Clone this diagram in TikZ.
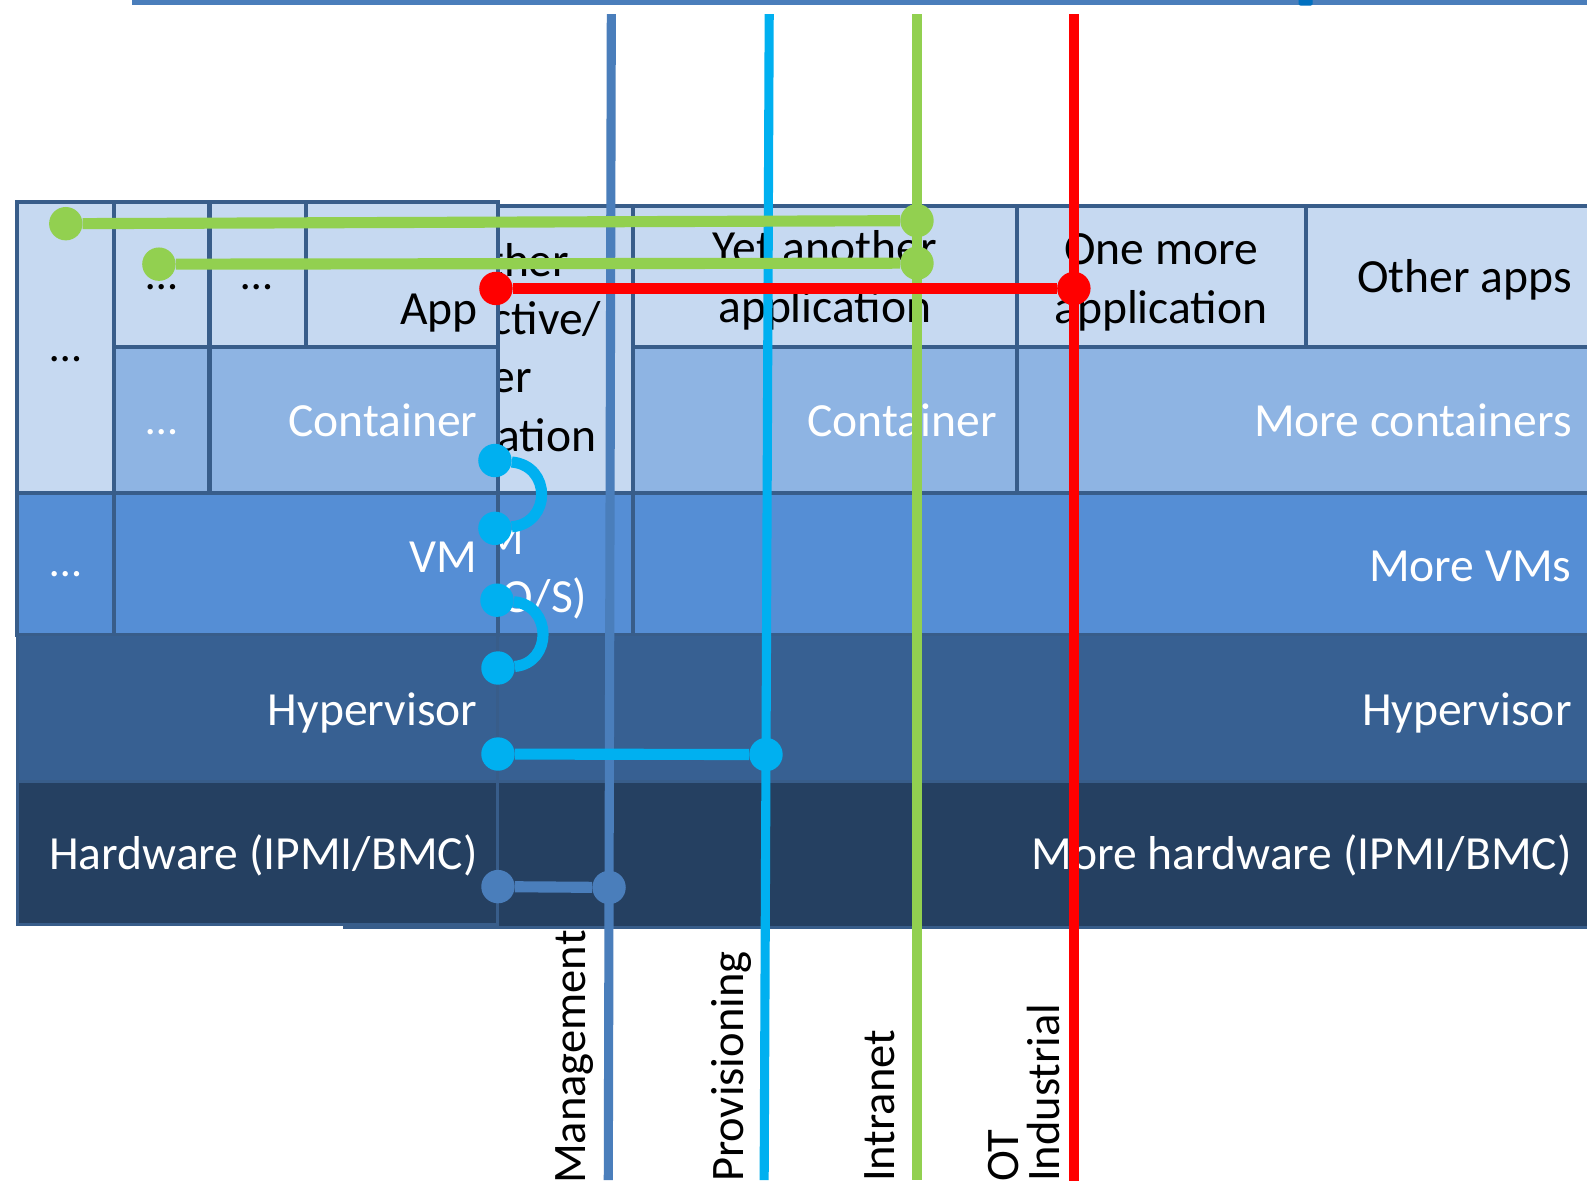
\documentclass[tikz,border=0pt]{standalone}
\usepackage{fontspec}
\setmainfont{Carlito}
\usetikzlibrary{calc}

\definecolor{appfill}{HTML}{C6D9F1}
\definecolor{contfill}{HTML}{8EB4E3}
\definecolor{vmfill}{HTML}{558ED5}
\definecolor{hypfill}{HTML}{376092}
\definecolor{hwfill}{HTML}{254061}
\definecolor{cellline}{HTML}{385D8A}
\definecolor{mgmtc}{HTML}{4A7EBB}
\definecolor{provc}{HTML}{00B0F0}
\definecolor{intrac}{HTML}{92D050}
\definecolor{otc}{HTML}{FF0000}
\definecolor{tabc}{HTML}{0070C0}

\newcommand\cellfont{\fontsize{47}{57.5}\selectfont}
\newcommand\ellfont{\fontsize{44}{50}\selectfont}
\newcommand\netfont{\fontsize{46}{40}\selectfont}

\begin{document}
\begin{tikzpicture}[x=1pt,y=-1pt,
  cell/.style={draw=cellline,line width=4pt},
  darkcell/.style={draw=cellline,line width=3pt},
  btxt/.style={inner sep=0pt,font=\cellfont},
  etxt/.style={inner sep=0pt,font=\ellfont},
  multi/.style={inner sep=0pt,font=\cellfont,align=center},
  lbl/.style={inner sep=0pt,font=\netfont,rotate=90},
  netline/.style={line width=9pt},
  wire/.style={line width=11pt},
  joint/.style={circle,inner sep=0pt,minimum size=33pt,fill=#1}]

\useasboundingbox (0,0) rectangle (1568,1174);
\fill[white] (0,0) rectangle (1568,1174);
\clip (0,0) rectangle (1568,1174);

% bus along the top edge
\coordinate (topL) at (130,2);
\coordinate (topR) at (1568,2);
\draw[mgmtc,line width=5pt] (topL) -- (topR);
\node[fill=tabc,rounded corners=2pt,minimum width=14pt,minimum height=9pt,inner sep=0pt] (tab) at (1290,1) {};

% second server (behind)
\path[cell,fill=appfill] (340,204) rectangle (625,487);
\path[cell,fill=appfill] (625,204) rectangle (1005,343);
\path[cell,fill=appfill] (1005,204) rectangle (1290,343);
\path[cell,fill=appfill] (1290,204) rectangle (1580,343);
\path[cell,fill=contfill] (625,343) rectangle (1005,487);
\path[cell,fill=contfill] (1005,343) rectangle (1580,487);
\path[cell,fill=vmfill] (340,487) rectangle (625,627);
\path[cell,fill=vmfill] (625,487) rectangle (1580,627);
\path[darkcell,fill=hypfill] (340,627) rectangle (1580,772);
\path[darkcell,fill=hwfill] (340,772) rectangle (1580,916);

\begin{scope}
  % the first server hides the left part of these texts
  \clip (494,200) rectangle (1580,920);
  \node[multi] (rinter) at (484,347) {Another\\interactive/\\user\\application};
  \node[multi,text=white] (rvm) at (484,565) {VM\\(own O/S)};
\end{scope}
\node[multi] (ryet) at (815,277) {Yet another\\application};
\node[multi] (rone) at (1147,279) {One more\\application};
\node[btxt,anchor=base east] (rother) at (1553,289) {Other apps};
\node[btxt,text=white,anchor=base east] (rcont) at (985,431) {Container};
\node[btxt,text=white,anchor=base east] (rmcont) at (1553,431) {More containers};
\node[btxt,text=white,anchor=base east] (rmvm) at (1553,575) {More VMs};
\node[btxt,text=white,anchor=base east] (rhyp) at (1553,717) {Hypervisor};
\node[btxt,text=white,anchor=base east] (rhw) at (1553,859) {More hardware (IPMI/BMC)};

% first server (front)
\path[cell,fill=appfill] (17,200) rectangle (113,487);
\path[cell,fill=appfill] (113,200) rectangle (207,343);
\path[cell,fill=appfill] (207,200) rectangle (302,343);
\path[cell,fill=appfill] (302,200) rectangle (492,343);
\path[cell,fill=contfill] (113,343) rectangle (207,487);
\path[cell,fill=contfill] (207,343) rectangle (492,487);
\path[cell,fill=vmfill] (17,487) rectangle (113,627);
\path[cell,fill=vmfill] (113,487) rectangle (492,627);
\path[darkcell,fill=hypfill] (17,627) rectangle (492,772);
\path[darkcell,fill=hwfill] (17,772) rectangle (492,913);

\node[etxt,anchor=base] (lell1) at (65,357) {…};
\node[etxt,anchor=base] (lell2) at (160,286) {…};
\node[etxt,anchor=base] (lell3) at (254,286) {…};
\node[btxt,anchor=base east] (lapp) at (472,321) {App};
\node[etxt,text=white,anchor=base] (lell4) at (160,429) {…};
\node[btxt,text=white,anchor=base east] (lcont) at (472,431) {Container};
\node[etxt,text=white,anchor=base] (lell5) at (65,570) {…};
\node[btxt,text=white,anchor=base east] (lvm) at (472,566) {VM};
\node[btxt,text=white,anchor=base east] (lhyp) at (472,717) {Hypervisor};
\node[btxt,text=white,anchor=base east] (lhw) at (472,859) {Hardware (IPMI/BMC)};

% network lines
\coordinate (mgT) at (604,14);  \coordinate (mgB) at (601,1166);
\coordinate (prT) at (760,14);  \coordinate (prB) at (755,1166);
\coordinate (inT) at (906,14);  \coordinate (inB) at (906,1166);
\coordinate (otT) at (1061,14); \coordinate (otB) at (1061,1167);
\draw[netline,mgmtc] (mgT) -- (mgB);
\draw[netline,provc] (prT) -- (prB);
\draw[netline,intrac] (inT) -- (inB);
\draw[netline,otc,line width=10pt] (otT) -- (otB);

\node[lbl,anchor=base west] (nmg) at (578,1170) {Management};
\node[lbl,anchor=base west] (npr) at (735,1168) {Provisioning};
\node[lbl,anchor=base west] (nin) at (884,1168) {Intranet};
\node[lbl,anchor=south west,align=left] (not) at (1047,1168) {OT\\Industrial};

% intranet attachments
\node[joint=intrac] (g1a) at (65,221) {};
\node[joint=intrac] (g1b) at (906,218) {};
\draw[wire,intrac] (g1a) -- (g1b);
\node[joint=intrac] (g2a) at (157,261) {};
\node[joint=intrac] (g2b) at (906,260) {};
\draw[wire,intrac] (g2a) -- (g2b);

% industrial attachment
\node[joint=otc] (r1a) at (490,285) {};
\node[joint=otc] (r1b) at (1061,285) {};
\draw[wire,otc] (r1a) -- (r1b);

% provisioning chain
\node[joint=provc] (p1a) at (489,455) {};
\node[joint=provc] (p1b) at (489,522) {};
\draw[wire,provc] (p1a) .. controls (545,460) and (545,517) .. (p1b);
\node[joint=provc] (p2a) at (491,593) {};
\node[joint=provc] (p2b) at (492,660) {};
\draw[wire,provc] (p2a) .. controls (546,598) and (546,655) .. (p2b);
\node[joint=provc] (p3a) at (492,745) {};
\node[joint=provc] (p3b) at ($(prT)!0.635!(prB)$) {};
\draw[wire,provc] (p3a) -- (p3b);

% management attachment
\node[joint=mgmtc] (m1a) at (492,876) {};
\node[joint=mgmtc] (m1b) at ($(mgT)!0.749!(mgB)$) {};
\draw[wire,mgmtc] (m1a) -- (m1b);

\end{tikzpicture}
\end{document}
